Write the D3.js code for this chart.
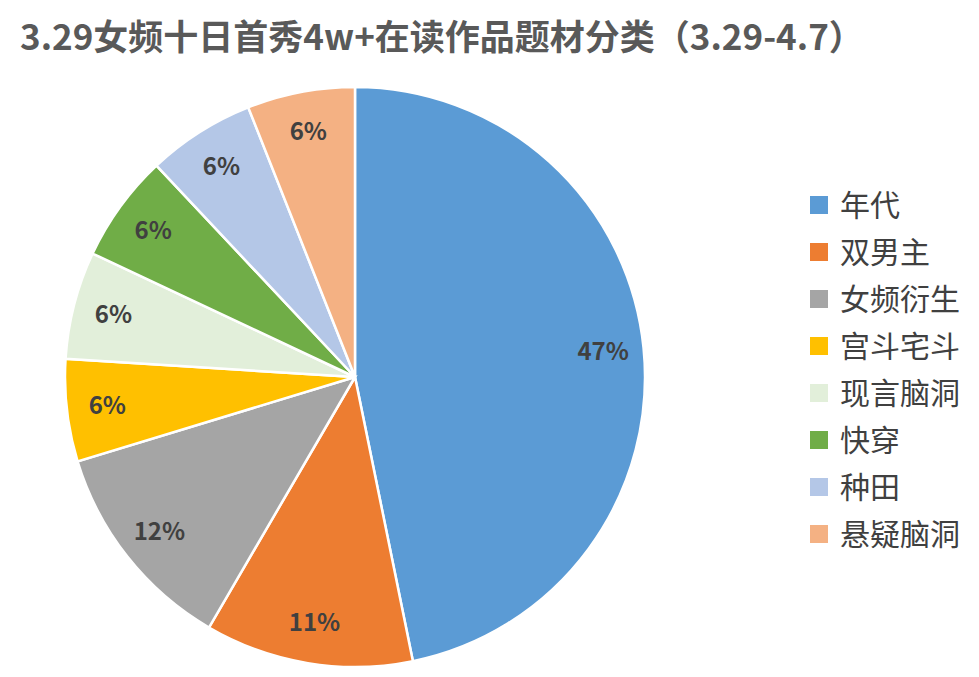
<!DOCTYPE html>
<html><head><meta charset="utf-8">
<script src="https://cdn.jsdelivr.net/npm/d3@7"></script>
<style>body{margin:0;background:#fff}</style></head>
<body><svg id="c" width="979" height="677"></svg>
<script>
const categories=["年代","双男主","女频衍生","宫斗宅斗","现言脑洞","快穿","种田","悬疑脑洞"];
const values=[46.8,11.6,11.9,5.7,6,6,6,6];
const labels=["47%","11%","12%","6%","6%","6%","6%","6%"];
const colors=["#5B9BD5","#ED7D31","#A5A5A5","#FFC000","#E2EFDA","#70AD47","#B4C7E7","#F4B183"];
const svg=d3.select("#c");
const font="'Noto Sans CJK SC','Noto Sans',sans-serif";
svg.append("text").attr("x",20).attr("y",50).attr("font-family",font).attr("font-weight","bold")
 .attr("font-size",35).attr("fill","#595959").text("3.29女频十日首秀4w+在读作品题材分类（3.29-4.7）");
const cx=355,cy=377,r=290;
const pie=d3.pie().sort(null).value(d=>d)(values);
const arc=d3.arc().innerRadius(0).outerRadius(r);
const lab=d3.arc().innerRadius(r*0.86).outerRadius(r*0.86);
const g=svg.append("g").attr("transform",`translate(${cx},${cy})`);
g.selectAll("path").data(pie).join("path").attr("d",arc).attr("fill",(d,i)=>colors[i]).attr("stroke","#fff").attr("stroke-width",2.5);
g.selectAll("text").data(pie).join("text").attr("transform",d=>{const c=lab.centroid(d);return `translate(${c[0]},${c[1]})`;})
 .attr("text-anchor","middle").attr("dy","0.35em").attr("font-family",font).attr("font-weight","bold")
 .attr("font-size",24).attr("fill","#404040").text((d,i)=>labels[i]);
const lg=svg.append("g").selectAll("g").data(categories).join("g").attr("transform",(d,i)=>`translate(810,${205+i*47})`);
lg.append("rect").attr("x",0).attr("y",-9).attr("width",18).attr("height",18).attr("fill",(d,i)=>colors[i]);
lg.append("text").attr("x",30).attr("dy","0.36em").attr("font-family",font).attr("font-size",30).attr("fill","#404040").text(d=>d);
</script></body></html>
